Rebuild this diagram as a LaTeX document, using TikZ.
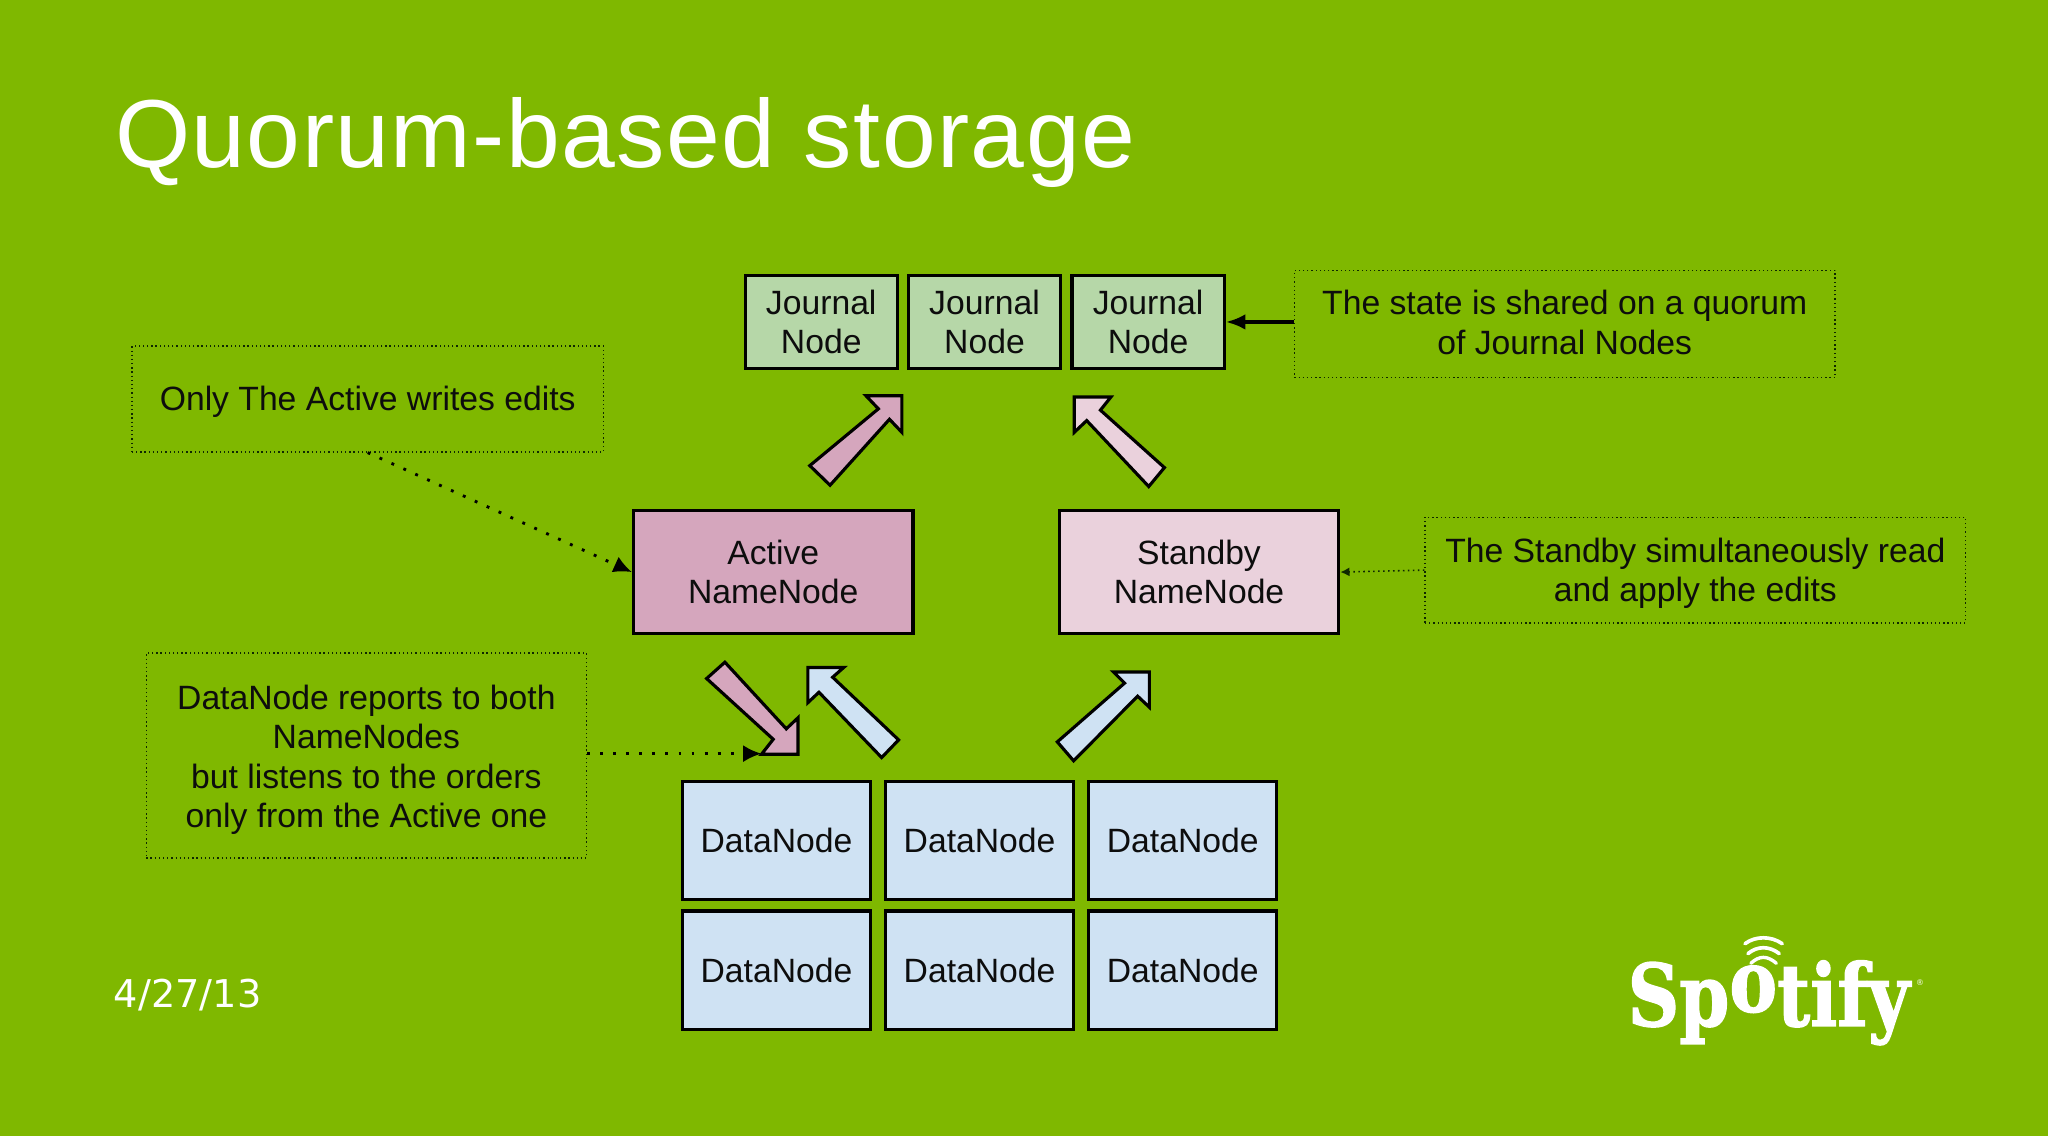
\documentclass[tikz,border=0pt]{standalone}
\usepackage{fontspec}
\setmainfont{Liberation Sans}
\newfontfamily\headfont[LetterSpace=1.5]{Liberation Sans}
\newfontfamily\datefont{DejaVu Sans}
\newfontfamily\logofont[FakeBold=1.6]{DejaVu Serif Bold}
\usetikzlibrary{arrows.meta}
\definecolor{slidegreen}{RGB}{127,184,0}
\definecolor{journalfill}{RGB}{182,215,168}
\definecolor{activefill}{RGB}{213,166,189}
\definecolor{standbyfill}{RGB}{234,209,220}
\definecolor{datafill}{RGB}{207,226,243}
\definecolor{inkgreen}{RGB}{14,40,0}
\newcommand{\notedrop}[1]{\rule{0pt}{#1}}
\tikzset{
  every box/.style={draw=black, line width=2.4pt, align=center, inner sep=0pt, text=black!95,
    font=\fontsize{25.8}{30}\selectfont},
  journal box/.style={every box, fill=journalfill, minimum width=116.5pt, minimum height=71pt},
  name box/.style={every box, minimum width=214pt, minimum height=94pt},
  data box/.style={every box, fill=datafill, minimum width=144pt, minimum height=91pt},
  note box/.style={draw=inkgreen, dash pattern=on 1pt off 2.2pt, line width=1pt, align=center, inner sep=0pt, text=black!95,
    font=\fontsize{25.8}{30}\selectfont},
  block arrow/.style={draw=black, line width=2.4pt, line join=miter},
  note link/.style={draw=black, dash pattern=on 2.2pt off 7.8pt, line width=2.2pt, -{Latex[length=14pt,width=13pt]}}
}
\begin{document}
\begin{tikzpicture}[x=1pt, y=-1pt]

\useasboundingbox (0,0) rectangle (1568,869.75);
\fill [slidegreen] (0,0) rectangle (1568,869.75);

\node [anchor=base west, white, inner sep=0pt, font=\headfont\fontsize{74}{80}\selectfont] (title) at (88,128) {Quorum-based storage};
\node [anchor=base west, white, inner sep=0pt, font=\datefont\fontsize{29.3}{34}\selectfont] (date) at (87,771) {4/27/13};

% journal nodes
\foreach \x [count=\i] in {628.75,753.75,879}
  \node [journal box] (journal-\i) at (\x,246.5) {Journal\\Node};

% name nodes
\node [name box, fill=activefill] (active) at (592,438) {Active\\NameNode};
\node [name box, fill=standbyfill] (standby) at (918,438) {Standby\\NameNode};

% data nodes
\foreach \y [count=\r] in {643.5,743}
  \foreach \x [count=\i] in {594.5,750,905.5}
    \node [data box] (data-\r-\i) at (\x,\y) {DataNode};

% notes
\node [note box, minimum width=361pt, minimum height=81pt] (note-active) at (281.5,305.5) {\notedrop{23pt}Only The Active writes edits};
\node [note box, minimum width=414pt, minimum height=82pt] (note-quorum) at (1198,248) {The state is shared on a quorum\\of Journal Nodes\rule[-2.5pt]{0pt}{0pt}};
\node [note box, minimum width=414pt, minimum height=81pt] (note-standby) at (1298,436.5) {\notedrop{23pt}The Standby simultaneously read\\and apply the edits};
\node [note box, minimum width=337pt, minimum height=157pt] (note-data) at (280.5,578.5) {\notedrop{25pt}DataNode reports to both\\NameNodes\\but listens to the orders\\only from the Active one};

% block arrows
\draw [block arrow, fill=activefill] (620,356.5) -- (672.5,313) -- (663,303) -- (690.5,303) -- (690.5,331) -- (681,321) -- (635.5,371.5) -- cycle;
\draw [block arrow, fill=standbyfill] (891.5,358) -- (842.5,314) -- (850.5,304) -- (822.5,304) -- (822.5,331) -- (832,322) -- (879.5,372.5) -- cycle;
\draw [block arrow, fill=activefill] (541,519.5) -- (592,566) -- (583,577.5) -- (611,577.5) -- (611,549.5) -- (602,558) -- (555,507) -- cycle;
\draw [block arrow, fill=datafill] (688,566.5) -- (637.5,518.5) -- (646,511) -- (618.5,511) -- (618.5,538) -- (627,530) -- (675,580) -- cycle;
\draw [block arrow, fill=datafill] (809.5,568) -- (861,523) -- (852.5,514.5) -- (880,514.5) -- (880,541.5) -- (871,533) -- (822,582.5) -- cycle;

% note links
\coordinate (data-arrow) at (583,577);
\draw [note link] (note-active.south) -- (active.west);
\draw [note link] (note-data.east |- data-arrow) -- (data-arrow);
\draw [draw=black, line width=3pt, -{Latex[length=15pt,width=12pt]}] (note-quorum.west |- journal-3.east) -- (journal-3.east);
\draw [draw=inkgreen, dash pattern=on 1.2pt off 2.6pt, line width=1.2pt, -{Latex[length=7pt,width=7pt]}] (note-standby.west) -- (standby.east);

% logo
\node [anchor=base west, white, inner sep=0pt, font=\logofont\fontsize{66}{70}\selectfont] (logo) at (1246,785.5) {\scalebox{.83}[1]{Sp\raisebox{11pt}{o}tify}};
\foreach \r/\w in {0/2.8,7.6/2.8,15/2.6}
  \draw [white, line width=\w pt, line cap=round] (1336+.3*\r,722.5+\r) .. controls (1344+.2*\r,716.5+\r) and (1356-.2*\r,716.5+\r) .. (1364.5-.3*\r,722.5+\r);
\node [white, inner sep=0pt, font=\datefont\fontsize{6}{6}\selectfont] (logo-mark) at (1470,752) {®};

\end{tikzpicture}
\end{document}
